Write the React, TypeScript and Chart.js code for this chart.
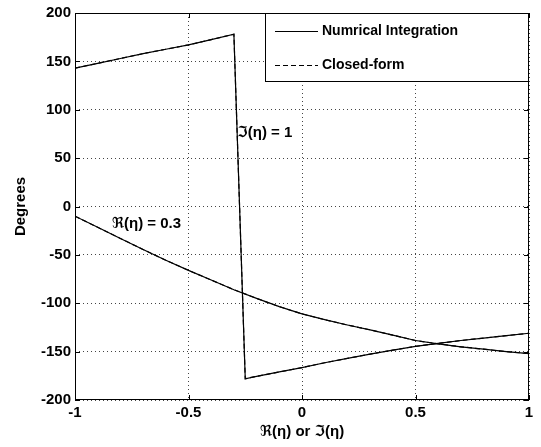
import React, { useEffect, useRef } from "react";
import { Chart, registerables } from "chart.js";

Chart.register(...registerables);

// ---- data ----
const realEta = [-1, -0.9, -0.8, -0.7, -0.6, -0.5, -0.4, -0.3, -0.2, -0.1, 0, 0.1, 0.2, 0.3, 0.4, 0.5, 0.6, 0.7, 0.8, 0.9, 1];
const realDegrees = [-10, -21.5, -33, -44.5, -55.5, -66, -76, -86, -95, -103.5, -111, -117, -122.5, -127.5, -133, -138.5, -142, -145, -147.5, -150, -152];

const imagEta = [-1, -0.9, -0.8, -0.7, -0.6, -0.5, -0.4, -0.3, -0.25, -0.2, -0.1, 0, 0.1, 0.2, 0.3, 0.4, 0.5, 0.6, 0.7, 0.8, 0.9, 1];
const imagDegrees = [143, 148, 153, 158, 162.5, 167, 172.5, 178, -178, -175.5, -171, -166.5, -161.5, -157, -152.5, -148.5, -144.5, -141.5, -138.5, -136, -133.5, -131];

const seriesLabels = ["Numrical Integration", "Closed-form"];

const xTicks = [-1, -0.5, 0, 0.5, 1];
const xTickLabels = ["-1", "-0.5", "0", "0.5", "1"];
const yTicks = [-200, -150, -100, -50, 0, 50, 100, 150, 200];
const yTickLabels = ["-200", "-150", "-100", "-50", "0", "50", "100", "150", "200"];

const annotationTexts = ["\u2111(\u03b7) = 1", "\u211c(\u03b7) = 0.3"];
const annotationX = [-0.285, -0.838];
const annotationY = [76.6, -18.3];

const xTitle = "\u211c(\u03b7) or \u2111(\u03b7)";
const yTitle = "Degrees";

const FONT = "'Liberation Sans', Arial, 'DejaVu Sans', sans-serif";

const toPts = (xs: number[], ys: number[]) => xs.map((x, i) => ({ x, y: ys[i] }));

const framePlugin = {
  id: "frameAndExtras",
  afterDraw(chart: any) {
    const ctx = chart.ctx;
    const { left, right, top, bottom } = chart.chartArea;
    const xs = chart.scales.x;
    const ys = chart.scales.y;
    ctx.save();
    // frame
    ctx.strokeStyle = "#000";
    ctx.lineWidth = 1;
    ctx.setLineDash([]);
    ctx.strokeRect(left + 0.5, top + 0.5, right - left - 1, bottom - top - 1);
    // inner tick marks
    const tl = 5;
    ctx.beginPath();
    xTicks.forEach((v) => {
      const px = Math.round(xs.getPixelForValue(v)) + 0.5;
      ctx.moveTo(px, bottom);
      ctx.lineTo(px, bottom - tl);
      ctx.moveTo(px, top);
      ctx.lineTo(px, top + tl);
    });
    yTicks.forEach((v) => {
      const py = Math.round(ys.getPixelForValue(v)) + 0.5;
      ctx.moveTo(left, py);
      ctx.lineTo(left + tl, py);
      ctx.moveTo(right, py);
      ctx.lineTo(right - tl, py);
    });
    ctx.stroke();

    // annotations
    ctx.fillStyle = "#000";
    ctx.font = `bold 15px ${FONT}`;
    ctx.textAlign = "left";
    ctx.textBaseline = "middle";
    annotationTexts.forEach((t, i) => {
      ctx.fillText(t, xs.getPixelForValue(annotationX[i]), ys.getPixelForValue(annotationY[i]));
    });

    // legend box
    const bx = 265;
    const by = top;
    const bw = right - bx;
    const bh = 69;
    ctx.fillStyle = "#fff";
    ctx.fillRect(bx, by, bw, bh);
    ctx.strokeStyle = "#000";
    ctx.lineWidth = 1;
    ctx.strokeRect(bx + 0.5, by + 0.5, bw - 1, bh - 1);
    const rows = [18, 52];
    seriesLabels.forEach((label, i) => {
      const ds = chart.data.datasets[i];
      const y = by + rows[i] + 0.5;
      ctx.strokeStyle = ds.borderColor;
      ctx.lineWidth = ds.borderWidth;
      ctx.setLineDash(ds.borderDash || []);
      ctx.beginPath();
      ctx.moveTo(bx + 10, y);
      ctx.lineTo(bx + 53, y);
      ctx.stroke();
      ctx.setLineDash([]);
      ctx.fillStyle = "#000";
      ctx.font = `bold 14px ${FONT}`;
      ctx.textAlign = "left";
      ctx.textBaseline = "middle";
      ctx.fillText(label, bx + 57, y);
    });
    ctx.restore();
  },
};

export default function App() {
  const ref = useRef<HTMLCanvasElement | null>(null);
  useEffect(() => {
    document.body.style.margin = "0";
    const canvas = ref.current!;
    const lineBase = {
      borderColor: "#000",
      borderWidth: 1.2,
      pointRadius: 0,
      fill: false,
      tension: 0,
    };
    const chart = new Chart(canvas, {
      type: "line",
      data: {
        datasets: [
          { ...lineBase, label: seriesLabels[0], data: toPts(realEta, realDegrees) },
          { ...lineBase, label: seriesLabels[1], data: toPts(realEta, realDegrees), borderDash: [5, 3] },
          { ...lineBase, label: seriesLabels[0] + " (imag)", data: toPts(imagEta, imagDegrees) },
          { ...lineBase, label: seriesLabels[1] + " (imag)", data: toPts(imagEta, imagDegrees), borderDash: [5, 3] },
        ],
      },
      options: {
        responsive: false,
        animation: false,
        devicePixelRatio: 1,
        layout: { padding: { left: 0, top: 11, right: 12, bottom: 0 } },
        plugins: { legend: { display: false }, tooltip: { enabled: false } },
        scales: {
          x: {
            type: "linear",
            min: -1,
            max: 1,
            afterBuildTicks: (s: any) => {
              s.ticks = xTicks.map((v) => ({ value: v }));
            },
            afterFit: (s: any) => {
              s.height = 47;
            },
            ticks: {
              color: "#000",
              font: { family: FONT, size: 15, weight: "bold" },
              padding: 4,
              maxRotation: 0,
              autoSkip: false,
              callback: (v: any) => {
                const i = xTicks.indexOf(Number(v));
                return i >= 0 ? xTickLabels[i] : "";
              },
            },
            grid: { color: "#444", lineWidth: 1, drawTicks: false },
            border: { display: false, dash: [1, 3] },
            title: {
              display: true,
              text: xTitle,
              color: "#000",
              font: { family: FONT, size: 15, weight: "bold" },
              padding: { top: 0, bottom: 6 },
            },
          },
          y: {
            type: "linear",
            min: -200,
            max: 200,
            afterBuildTicks: (s: any) => {
              s.ticks = yTicks.map((v) => ({ value: v }));
            },
            afterFit: (s: any) => {
              s.width = 75;
            },
            ticks: {
              color: "#000",
              font: { family: FONT, size: 15, weight: "bold" },
              padding: 4,
              autoSkip: false,
              callback: (v: any) => {
                const i = yTicks.indexOf(Number(v));
                return i >= 0 ? yTickLabels[i] : "";
              },
            },
            grid: { color: "#444", lineWidth: 1, drawTicks: false },
            border: { display: false, dash: [1, 3] },
            title: {
              display: true,
              text: yTitle,
              color: "#000",
              font: { family: FONT, size: 15, weight: "bold" },
              padding: { top: 12, bottom: 0 },
            },
          },
        },
      },
      plugins: [framePlugin],
    });
    return () => chart.destroy();
  }, []);
  return (
    <div style={{ position: "absolute", left: 0, top: 0, width: 541, height: 447, background: "#fff" }}>
      <canvas ref={ref} width={541} height={447} style={{ display: "block" }} />
    </div>
  );
}
